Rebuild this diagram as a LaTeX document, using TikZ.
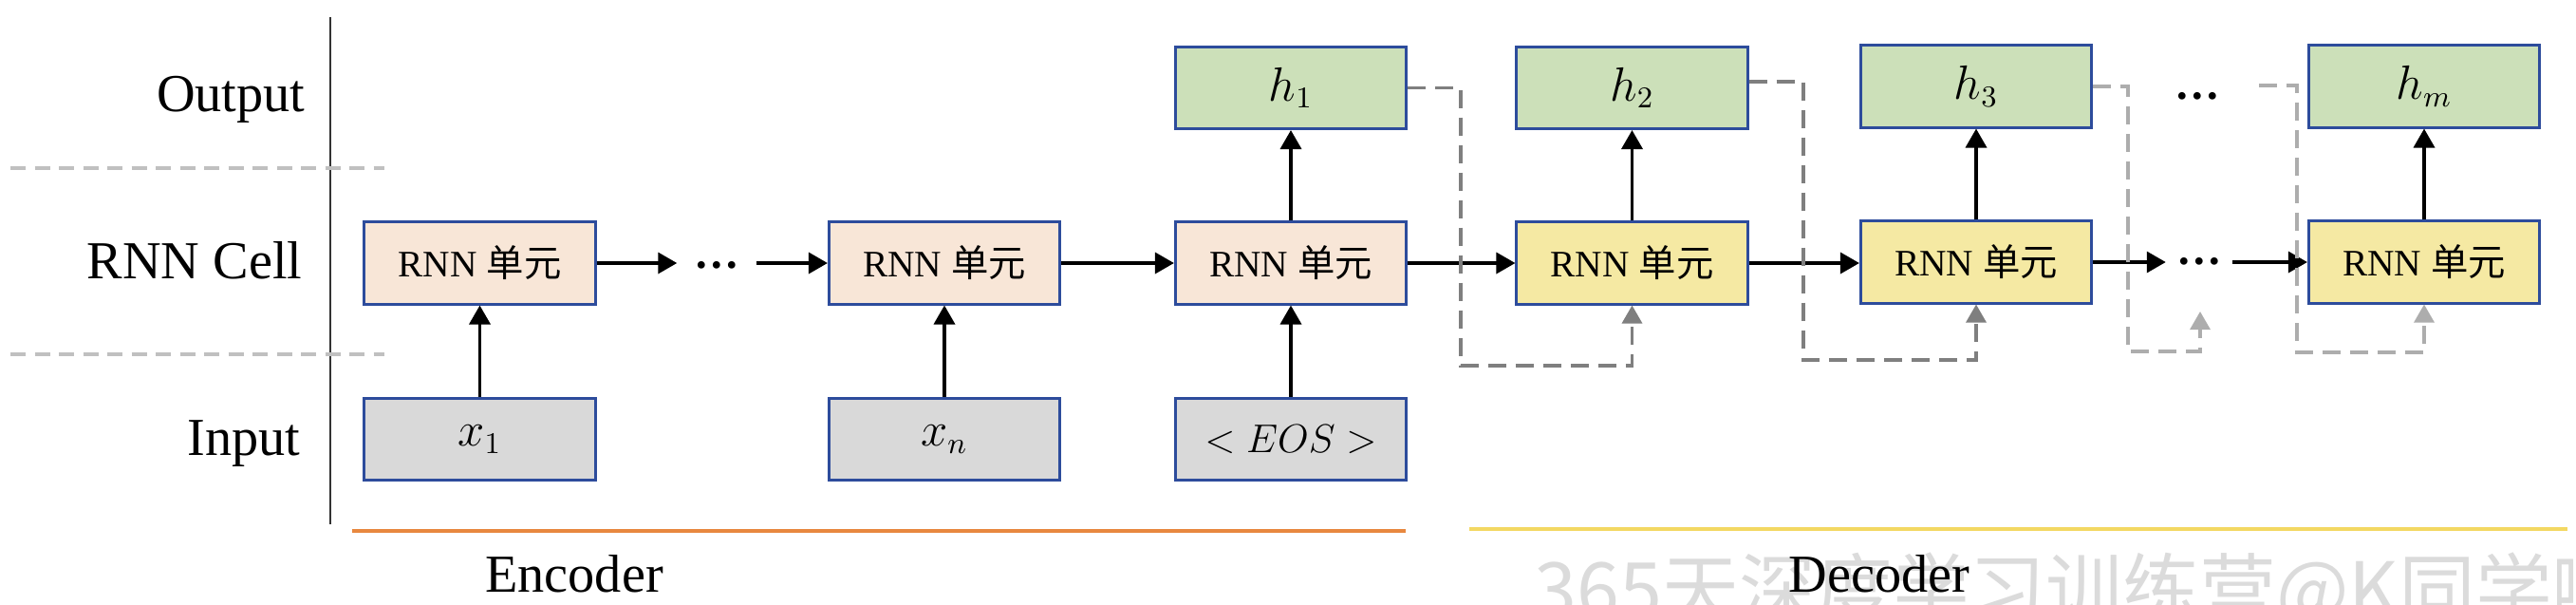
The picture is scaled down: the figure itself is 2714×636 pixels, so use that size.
\documentclass[tikz,border=0pt]{standalone}
\usepackage{fontspec}
\setmainfont{Liberation Serif}
\newfontfamily\cjk{Noto Sans CJK SC}
\usetikzlibrary{arrows.meta}
\definecolor{bordc}{HTML}{2D4C9C}
\definecolor{encfill}{HTML}{F8E6D7}
\definecolor{infill}{HTML}{D9D9D9}
\definecolor{outfill}{HTML}{CCE0B9}
\definecolor{decfill}{HTML}{F5E9A3}
\definecolor{encline}{HTML}{E8883F}
\definecolor{decline}{HTML}{F3D862}
\definecolor{dgray}{HTML}{7F7F7F}
\definecolor{lgray}{HTML}{ADADAD}
\definecolor{sepgray}{HTML}{C0C0C0}
\begin{document}
\begin{tikzpicture}[x=0.01cm,y=-0.01cm,
  box/.style={draw=bordc,line width=0.85pt,minimum width=2.43cm,minimum height=0.86cm,inner sep=0pt,font=\fontsize{11.2}{13}\selectfont},
  enc/.style={box,fill=encfill},
  inp/.style={box,fill=infill},
  outp/.style={box,fill=outfill},
  dec/.style={box,fill=decfill},
  mth/.style={font=\fontsize{13.5}{15}\selectfont},
  lbl/.style={anchor=base east,inner sep=0pt,font=\fontsize{16}{18}\selectfont},
  part/.style={anchor=base,inner sep=0pt,font=\fontsize{16}{18}\selectfont},
  arr/.style={-{Triangle[length=0.2cm,width=0.22cm]},line width=1pt,black},
  darr/.style={-{Triangle[length=0.19cm,width=0.21cm]},line width=0.9pt,dgray,dash pattern=on 0.19cm off 0.1cm},
  larr/.style={darr,lgray},
  sep/.style={sepgray,line width=1.1pt,dash pattern=on 0.16cm off 0.095cm},
  dotsnode/.style={inner sep=0pt,minimum height=0.3cm,font=\bfseries\fontsize{13.5}{15}\selectfont}
]
\useasboundingbox (0,0) rectangle (2714,636);

% watermark
\begin{scope}
\clip (0,0) rectangle (2714,636);
\node[anchor=base west,inner sep=0pt,text=gray!28,font=\cjk\fontsize{23}{26}\selectfont] (wm) at (1616,650) {365天深度学习训练营@K同学啊};
\end{scope}

% left axis and separators
\coordinate (vtop) at (348,18);
\coordinate (vbot) at (348,552);
\draw[line width=0.5pt,black!80] (vtop) -- (vbot);
\coordinate (s1a) at (11,177);
\coordinate (s1b) at (405,177);
\coordinate (s2a) at (11,373);
\coordinate (s2b) at (405,373);
\draw[sep] (s1a) -- (s1b);
\draw[sep] (s2a) -- (s2b);

\node[lbl] (lout) at (322,117) {Output};
\node[lbl] (lcell) at (319,293) {RNN Cell};
\node[lbl] (lin) at (317,479) {Input};

% encoder
\node[enc] (e1) at (505.5,277) {RNN {\cjk 单元}};
\node[enc] (e2) at (995,277) {RNN {\cjk 单元}};
\node[enc] (e3) at (1360,277) {RNN {\cjk 单元}};
\node[inp,mth] (x1) at (505.5,462.5) {$x_1$};
\node[inp,mth] (xn) at (995,462.5) {$x_n$};
\node[inp,font=\fontsize{12}{14}\selectfont] (eos) at (1360,462.5) {$<EOS>$};
\node[outp,mth] (h1) at (1360,92.5) {$h_1$};
\node[dotsnode,minimum width=0.82cm] (dots1) at (755,279) {…};

% decoder
\node[dec] (d1) at (1719.5,277) {RNN {\cjk 单元}};
\node[outp,mth] (h2) at (1719.5,92.5) {$h_2$};
\node[dec] (d2) at (2082,276) {RNN {\cjk 单元}};
\node[outp,mth] (h3) at (2082,91) {$h_3$};
\node[dec] (d4) at (2554,276) {RNN {\cjk 单元}};
\node[outp,mth] (hm) at (2554,91) {$h_m$};
\node[dotsnode,minimum width=0.69cm] (dots2) at (2317,275) {…};
\node[dotsnode] (dots3) at (2315,101) {…};

% solid arrows
\draw[arr] (x1) -- (e1);
\draw[arr] (xn) -- (e2);
\draw[arr] (eos) -- (e3);
\draw[arr] (e3) -- (h1);
\draw[arr] (d1) -- (h2);
\draw[arr] (d2) -- (h3);
\draw[arr] (d4) -- (hm);
\draw[arr] (e1.east) -- (dots1.west |- e1.east);
\draw[arr] (dots1.east |- e2.west) -- (e2.west);
\draw[arr] (e2) -- (e3);
\draw[arr] (e3.east) -- (d1.west |- e3.east);
\draw[arr] (d1.east) -- (d2.west |- d1.east);
\draw[arr] (d2.east) -- (dots2.west |- d2.east);
\draw[arr] (dots2.east |- d4.west) -- (d4.west);

% dashed feedback loops
\draw[darr] (h1.east) -| (1539,385) -| (d1.south);
\draw[darr] ([yshift=0.065cm]h2.east) -| (1900,379) -| (d2.south);
\coordinate (tip3) at (2318,328);
\draw[larr] (h3.east) -| (2242,370) -| (tip3);
\coordinate (s4) at (2380,90);
\draw[larr] (s4) -| (2420,371) -| (d4.south);

% encoder / decoder brackets
\coordinate (ola) at (371,559);
\coordinate (olb) at (1481,559);
\draw[encline,line width=1.1pt] (ola) -- (olb);
\coordinate (yla) at (1548,557);
\coordinate (ylb) at (2705,557);
\draw[decline,line width=1.1pt] (yla) -- (ylb);
\node[part] (enclbl) at (605,623) {Encoder};
\node[part] (declbl) at (1980,623) {Decoder};
\end{tikzpicture}
\end{document}
